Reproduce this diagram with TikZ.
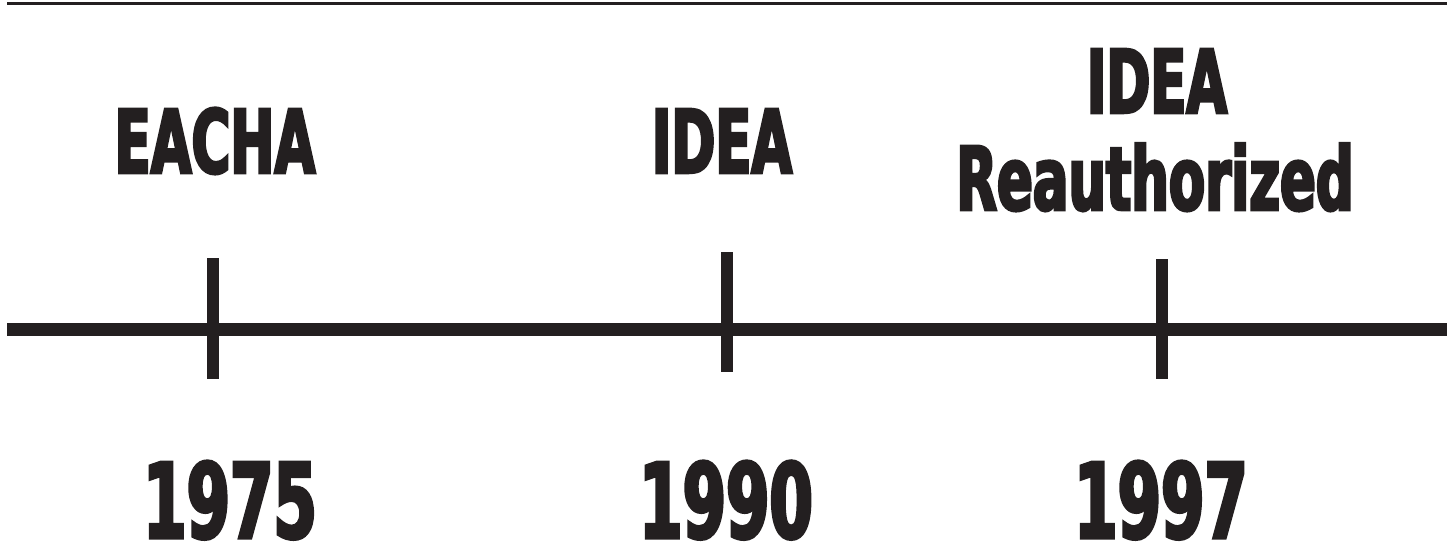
\documentclass[tikz,border=0pt]{standalone}
\usepackage{fontspec}
\setmainfont{DejaVu Sans}[BoldFont={DejaVu Sans Bold},BoldFeatures={FakeStretch=0.6,FakeBold=3}]
\definecolor{ink}{HTML}{231F20}
\begin{document}
\begin{tikzpicture}[x=1pt,y=-1pt,
  lbl/.style={anchor=base,inner sep=0pt,text=ink,font=\fontsize{88}{96}\selectfont\bfseries},
  yr/.style={anchor=base,inner sep=0pt,text depth=0pt,text=ink,font=\fontsize{104}{110}\selectfont\bfseries},
  axisline/.style={draw=ink,line width=13pt},
  tickline/.style={draw=ink,line width=12pt},
  rule/.style={draw=ink,line width=3pt}]
\useasboundingbox (0,0) rectangle (1453,548);
% top rule
\coordinate (r0) at (7,3.3);
\coordinate (r1) at (1447,3.3);
\draw[rule] (r0) -- (r1);
% axis
\coordinate (a0) at (7,329);
\coordinate (a1) at (1447,329);
\draw[axisline] (a0) -- (a1);
% ticks
\coordinate (t1a) at (213,258);
\coordinate (t1b) at (213,379);
\coordinate (t2a) at (727,252);
\coordinate (t2b) at (727,372);
\coordinate (t3a) at (1162,259);
\coordinate (t3b) at (1162,379);
\draw[tickline] (t1a) -- (t1b);
\draw[tickline] (t2a) -- (t2b);
\draw[tickline] (t3a) -- (t3b);
% labels
\node[lbl] (eacha) at (215,173) {EACHA};
\node[lbl] (idea) at (722,173) {IDEA};
\node[lbl] (idea2) at (1157,113) {IDEA};
\node[lbl] (reauth) at (1155,210) {Reauthorized};
% years
\node[yr] (y1) at (230,538) {1975};
\node[yr] (y2) at (726,538) {1990};
\node[yr] (y3) at (1161,538) {1997};
\end{tikzpicture}
\end{document}
